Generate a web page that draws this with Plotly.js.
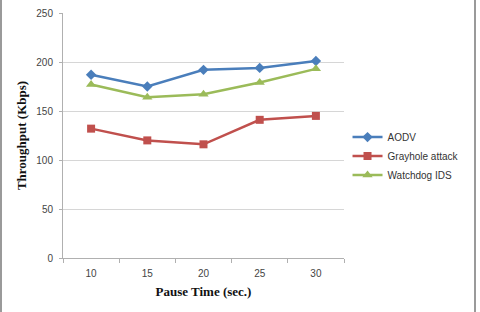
<!DOCTYPE html>
<html>
<head>
<meta charset="utf-8">
<script src="https://cdn.plot.ly/plotly-3.0.1.min.js"></script>
<style>
  html, body { margin: 0; padding: 0; background: #fff; }
  #frame { position: relative; width: 480px; height: 312px; overflow: hidden; }
  #edge { position: absolute; left: 0; top: 0; width: 472px; height: 312px;
          border-left: 2px solid #9a9a9a; border-right: 2px solid #9a9a9a;
          box-sizing: content-box; pointer-events: none; }
  #chart { position: absolute; left: 0; top: 0; width: 480px; height: 312px; }
</style>
</head>
<body>
<div id="frame">
  <div id="chart"></div>
  <div id="edge"></div>
</div>
<script>
// Pause time categories (seconds)
const pauseTimes = ["10", "15", "20", "25", "30"];

// Throughput in Kbps for each routing scenario
const aodv = [187, 175, 192, 194, 201];
const grayhole = [132, 120, 116, 141, 145];
const watchdog = [177, 164, 167, 179, 193];

const seriesNames = ["AODV", "Grayhole attack", "Watchdog IDS"];
const yTicks = [0, 50, 100, 150, 200, 250];

const traces = [
  {
    x: pauseTimes, y: aodv, name: seriesNames[0], type: "scatter", mode: "lines+markers",
    line: { color: "#4a7ebb", width: 2.5 },
    marker: { symbol: "diamond", size: 8, color: "#4a7ebb" }
  },
  {
    x: pauseTimes, y: grayhole, name: seriesNames[1], type: "scatter", mode: "lines+markers",
    line: { color: "#c0504d", width: 2.5 },
    marker: { symbol: "square", size: 8, color: "#c0504d" }
  },
  {
    x: pauseTimes, y: watchdog, name: seriesNames[2], type: "scatter", mode: "lines+markers",
    line: { color: "#9bbb59", width: 2.5 },
    marker: { symbol: "triangle-up", size: 9, color: "#9bbb59" }
  }
];

const layout = {
  width: 480, height: 312,
  margin: { l: 63, r: 136, t: 13, b: 54, autoexpand: false },
  paper_bgcolor: "#ffffff",
  plot_bgcolor: "#ffffff",
  showlegend: true,
  legend: {
    xref: "container", yref: "container",
    x: 0.724, xanchor: "left", y: 0.607, yanchor: "top",
    font: { family: "Liberation Sans, Arial, sans-serif", size: 10, color: "#333" },
    itemwidth: 30, tracegroupgap: 0, bgcolor: "rgba(0,0,0,0)"
  },
  xaxis: {
    type: "category",
    range: [-0.5, 4.5],
    tickson: "boundaries",
    ticks: "outside", ticklen: 4, tickcolor: "#b0b0b0",
    ticklabelstandoff: 6,
    showline: true, linecolor: "#b0b0b0", linewidth: 1,
    showgrid: false, zeroline: false,
    tickfont: { family: "Liberation Sans, Arial, sans-serif", size: 10, color: "#444" },
    title: {
      text: "Pause Time (sec.)",
      font: { family: "Liberation Serif, Times New Roman, serif", size: 13, color: "#111", weight: "bold" },
      standoff: 8
    }
  },
  yaxis: {
    range: [0, 250],
    tickvals: yTicks,
    ticks: "outside", ticklen: 3, tickcolor: "#b0b0b0",
    ticklabelstandoff: 4,
    showline: true, linecolor: "#b0b0b0", linewidth: 1,
    showgrid: true, gridcolor: "#d6d6d6", gridwidth: 1,
    zeroline: false,
    tickfont: { family: "Liberation Sans, Arial, sans-serif", size: 10, color: "#444" },
    title: {
      text: "Throughput (Kbps)",
      font: { family: "Liberation Serif, Times New Roman, serif", size: 13, color: "#111", weight: "bold" },
      standoff: 6
    }
  }
};

Plotly.newPlot("chart", traces, layout, { displayModeBar: false, staticPlot: true });
</script>
</body>
</html>
